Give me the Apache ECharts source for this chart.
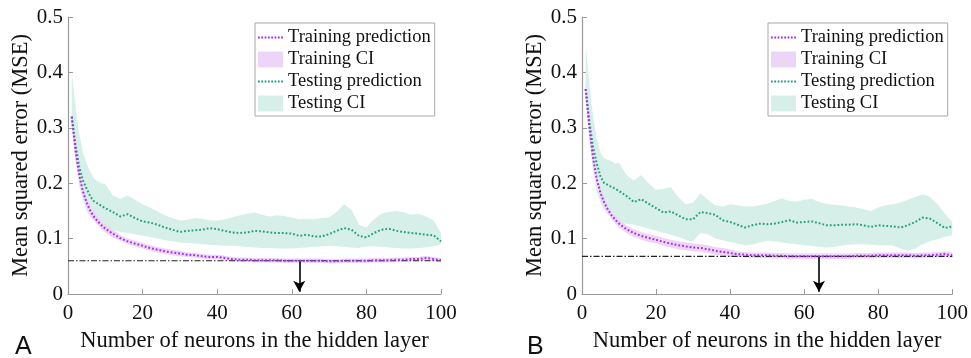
<!DOCTYPE html>
<html><head><meta charset="utf-8">
<script src="https://cdn.jsdelivr.net/npm/echarts@6/dist/echarts.min.js"></script>
<style>html,body{margin:0;padding:0;background:#fff}#c{width:971px;height:358px}</style>
</head><body><div id="c"></div>
<script>
// Sample positions (number of neurons)
const xs = [1,2,3,4,5,6,7,8,9,10,12,14,16,18,20,22,24,26,28,30,32,34,36,38,40,42,44,46,48,50,52,54,56,58,60,62,64,66,68,70,72,74,76,78,80,82,84,86,88,90,92,94,96,98,100];

// Panel A
const A_testPred = [.32,.27,.23,.205,.19,.176,.167,.163,.159,.155,.148,.14,.144,.137,.131,.129,.125,.12,.116,.112,.114,.115,.116,.119,.117,.114,.111,.11,.111,.114,.113,.111,.11,.11,.109,.105,.107,.104,.104,.108,.114,.119,.116,.105,.102,.11,.116,.118,.114,.112,.11,.109,.107,.106,.095];
const A_testHi = [.40,.34,.29,.255,.235,.22,.208,.203,.2,.198,.178,.172,.178,.17,.162,.156,.149,.142,.137,.132,.134,.137,.136,.133,.132,.135,.138,.142,.145,.147,.143,.14,.142,.141,.138,.135,.136,.135,.137,.138,.148,.162,.152,.125,.12,.135,.145,.148,.15,.148,.143,.145,.14,.133,.11];
const A_testLo = [.30,.24,.195,.17,.15,.14,.132,.127,.123,.12,.115,.112,.11,.108,.105,.103,.1,.097,.095,.093,.092,.091,.09,.089,.088,.087,.087,.086,.085,.084,.083,.083,.082,.082,.082,.083,.084,.085,.086,.087,.086,.085,.084,.083,.086,.086,.085,.084,.083,.082,.082,.083,.084,.086,.09];
const A_trainPred = [.32,.26,.215,.185,.165,.15,.139,.131,.124,.118,.109,.101,.095,.091,.087,.083,.08,.077,.075,.073,.071,.07,.068,.067,.067,.065,.063,.062,.062,.061,.061,.061,.061,.06,.06,.06,.06,.06,.06,.059,.059,.06,.06,.06,.06,.061,.061,.061,.062,.062,.063,.063,.065,.063,.061];
const A_trainLo = [.308,.248,.203,.176,.156,.141,.132,.124,.117,.111,.102,.096,.09,.086,.082,.078,.075,.072,.07,.068,.067,.066,.064,.063,.063,.061,.059,.058,.058,.057,.057,.057,.057,.056,.056,.056,.056,.056,.056,.055,.055,.056,.056,.056,.056,.057,.057,.057,.058,.058,.059,.059,.061,.059,.057];
const A_trainHi = [.332,.272,.227,.194,.174,.159,.146,.138,.131,.125,.116,.106,.1,.096,.092,.088,.085,.082,.08,.078,.075,.074,.072,.071,.071,.069,.067,.066,.066,.065,.065,.065,.065,.064,.064,.064,.064,.064,.064,.063,.063,.064,.064,.064,.064,.065,.065,.065,.066,.066,.067,.067,.069,.067,.065];
const A_refMSE = 0.06;
const A_arrowX = 62;

// Panel B
const B_testPred = [.37,.31,.265,.235,.212,.2,.197,.193,.19,.186,.177,.166,.171,.163,.155,.147,.149,.142,.135,.135,.148,.146,.143,.133,.13,.125,.12,.124,.127,.126,.127,.13,.133,.129,.13,.131,.128,.124,.124,.125,.125,.126,.124,.121,.124,.123,.122,.12,.124,.13,.138,.136,.128,.119,.122];
const B_testHi = [.45,.38,.32,.28,.255,.245,.242,.24,.235,.237,.215,.205,.215,.2,.188,.19,.193,.175,.162,.165,.182,.17,.16,.158,.162,.16,.158,.158,.16,.163,.168,.173,.168,.167,.17,.172,.166,.163,.161,.16,.158,.156,.153,.15,.156,.16,.162,.165,.17,.175,.18,.175,.162,.145,.13];
const B_testLo = [.35,.28,.22,.185,.165,.152,.143,.137,.132,.13,.127,.125,.122,.118,.114,.11,.107,.103,.098,.095,.11,.108,.1,.097,.094,.091,.088,.089,.093,.096,.095,.093,.091,.09,.088,.087,.085,.084,.085,.087,.089,.09,.09,.089,.088,.088,.087,.082,.078,.082,.09,.095,.099,.103,.106];
const B_trainPred = [.37,.30,.245,.207,.182,.165,.152,.142,.134,.127,.117,.11,.105,.101,.098,.094,.091,.088,.086,.084,.083,.081,.078,.076,.074,.072,.071,.07,.07,.07,.069,.069,.068,.068,.068,.068,.068,.068,.068,.068,.068,.069,.069,.069,.07,.07,.07,.07,.07,.069,.07,.07,.071,.072,.07];
const B_trainLo = [.358,.288,.233,.198,.173,.156,.145,.135,.127,.12,.11,.103,.098,.094,.091,.087,.084,.081,.079,.077,.076,.074,.071,.069,.067,.067,.066,.065,.065,.065,.064,.064,.063,.063,.063,.063,.063,.063,.063,.063,.063,.064,.064,.064,.065,.065,.065,.065,.065,.064,.065,.065,.066,.067,.065];
const B_trainHi = [.382,.312,.257,.216,.191,.174,.159,.149,.141,.134,.124,.117,.112,.108,.105,.101,.098,.095,.093,.091,.09,.088,.085,.083,.081,.077,.076,.075,.075,.075,.074,.074,.073,.073,.073,.073,.073,.073,.073,.073,.073,.074,.074,.074,.075,.075,.075,.075,.075,.074,.075,.075,.076,.077,.075];
const B_refMSE = 0.068;
const B_arrowX = 64;

const xTicks = [0,20,40,60,80,100];
const yTicks = [0,0.1,0.2,0.3,0.4,0.5];

const C_train = '#a52ee8', C_trainCI = '#eed4f7', C_test = '#22a07a', C_testCI = '#d6f0e9';
const SERIF = 'Liberation Serif, Times New Roman, serif';
const DOTS_ICON = 'path://M0,0h1.8v1.8h-1.8z M3.3,0h1.8v1.8h-1.8z M6.6,0h1.8v1.8h-1.8z M9.9,0h1.8v1.8h-1.8z M13.2,0h1.8v1.8h-1.8z M16.5,0h1.8v1.8h-1.8z M19.8,0h1.8v1.8h-1.8z M23.1,0h1.8v1.8h-1.8z';

function pairs(x, y) { return x.map((v, i) => [v, y[i]]); }
function triples(x, lo, hi) { return x.map((v, i) => [v, lo[i], hi[i]]); }

// Confidence band drawn as one polygon through the axis scales
function bandSeries(g, name, color, lo, hi, z) {
  return {
    type:'custom', name:name, xAxisIndex:g, yAxisIndex:g, silent:true, z:z,
    itemStyle:{color:color},
    data: triples(xs, lo, hi),
    encode:{x:0, y:[1,2]},
    renderItem: function (params, api) {
      if (params.dataIndex !== 0) return;
      const top = [], bot = [];
      for (let i = 0; i < xs.length; i++) {
        top.push(api.coord([xs[i], hi[i]]));
        bot.push(api.coord([xs[i], lo[i]]));
      }
      return {type:'polygon', shape:{points: top.concat(bot.reverse())}, style:{fill:color, stroke:null}};
    }
  };
}

function panelSeries(g, d) {
  const base = {type:'line', xAxisIndex:g, yAxisIndex:g, symbol:'none', silent:true, animation:false};
  return [
    bandSeries(g, 'Testing CI', C_testCI, d.testLo, d.testHi, 1),
    bandSeries(g, 'Training CI', C_trainCI, d.trainLo, d.trainHi, 2),
    Object.assign({}, base, {name:'_ref'+g, data:[[xTicks[0], d.ref],[xTicks[xTicks.length-1], d.ref]],
      lineStyle:{color:'#222', width:1.2, type:[6,2,1.5,2]}, z:3,
      markLine:{silent:true, symbol:['none','arrow'], symbolSize:[9,11], label:{show:false},
        lineStyle:{color:'#000', width:1.6, type:'solid'},
        data:[[{coord:[d.arrowX, d.ref]},{coord:[d.arrowX, 0.004]}]]}}),
    Object.assign({}, base, {name:'Testing prediction', data:pairs(xs, d.testPred), itemStyle:{color:C_test}, lineStyle:{color:C_test, width:2, type:[1.8,2]}, z:4}),
    Object.assign({}, base, {name:'Training prediction', data:pairs(xs, d.trainPred), itemStyle:{color:C_train}, lineStyle:{color:C_train, width:2, type:[1.8,2]}, z:5})
  ];
}

function xAxisCfg(g) {
  return {type:'value', gridIndex:g, min:xTicks[0], max:xTicks[xTicks.length-1], interval:20,
    name:'Number of neurons in the hidden layer', nameLocation:'middle', nameGap:36,
    nameTextStyle:{fontFamily:SERIF, fontSize:22.5, color:'#111'},
    axisLine:{show:true, lineStyle:{color:'#9a9a9a', width:1.2}},
    axisTick:{show:true, inside:true, length:5, lineStyle:{color:'#9a9a9a'}},
    axisLabel:{fontFamily:SERIF, fontSize:21, color:'#111', margin:9},
    splitLine:{show:false}};
}
function yAxisCfg(g) {
  return {type:'value', gridIndex:g, min:yTicks[0], max:yTicks[yTicks.length-1], interval:0.1,
    name:'Mean squared error (MSE)', nameLocation:'middle', nameGap:34, nameRotate:90,
    nameTextStyle:{fontFamily:SERIF, fontSize:22.5, color:'#111'},
    axisLine:{show:true, lineStyle:{color:'#9a9a9a', width:1.2}},
    axisTick:{show:true, inside:true, length:5, lineStyle:{color:'#9a9a9a'}},
    axisLabel:{fontFamily:SERIF, fontSize:21, color:'#111', margin:5},
    splitLine:{show:false}};
}
function legendCfg(left) {
  return {orient:'vertical', left:left, top:23, itemWidth:25, itemHeight:16, itemGap:3,
    borderColor:'#a8a8a8', borderWidth:1, padding:[5,4,3,3], backgroundColor:'#fff',
    textStyle:{fontFamily:SERIF, fontSize:18.5, color:'#111'},
    data:[{name:'Training prediction', icon:DOTS_ICON, itemStyle:{color:C_train}},
          {name:'Training CI', icon:'rect', itemStyle:{color:C_trainCI}},
          {name:'Testing prediction', icon:DOTS_ICON, itemStyle:{color:C_test}},
          {name:'Testing CI', icon:'rect', itemStyle:{color:C_testCI}}]};
}

const chart = echarts.init(document.getElementById('c'), null, {renderer:'canvas'});
chart.setOption({
  animation:false,
  backgroundColor:'#fff',
  grid:[{left:68, right:530, top:17, bottom:63}, {left:582, right:17, top:17, bottom:63}],
  xAxis:[xAxisCfg(0), xAxisCfg(1)],
  yAxis:[yAxisCfg(0), yAxisCfg(1)],
  legend:[legendCfg(255), legendCfg(768)],
  graphic:[
    {type:'text', left:15, top:335, style:{text:'A', font:'25px Liberation Sans, Arial, sans-serif', fill:'#111'}},
    {type:'text', left:527, top:335, style:{text:'B', font:'25px Liberation Sans, Arial, sans-serif', fill:'#111'}}
  ],
  series: panelSeries(0, {testPred:A_testPred, testHi:A_testHi, testLo:A_testLo, trainPred:A_trainPred, trainHi:A_trainHi, trainLo:A_trainLo, ref:A_refMSE, arrowX:A_arrowX})
    .concat(panelSeries(1, {testPred:B_testPred, testHi:B_testHi, testLo:B_testLo, trainPred:B_trainPred, trainHi:B_trainHi, trainLo:B_trainLo, ref:B_refMSE, arrowX:B_arrowX}))
});
</script></body></html>
